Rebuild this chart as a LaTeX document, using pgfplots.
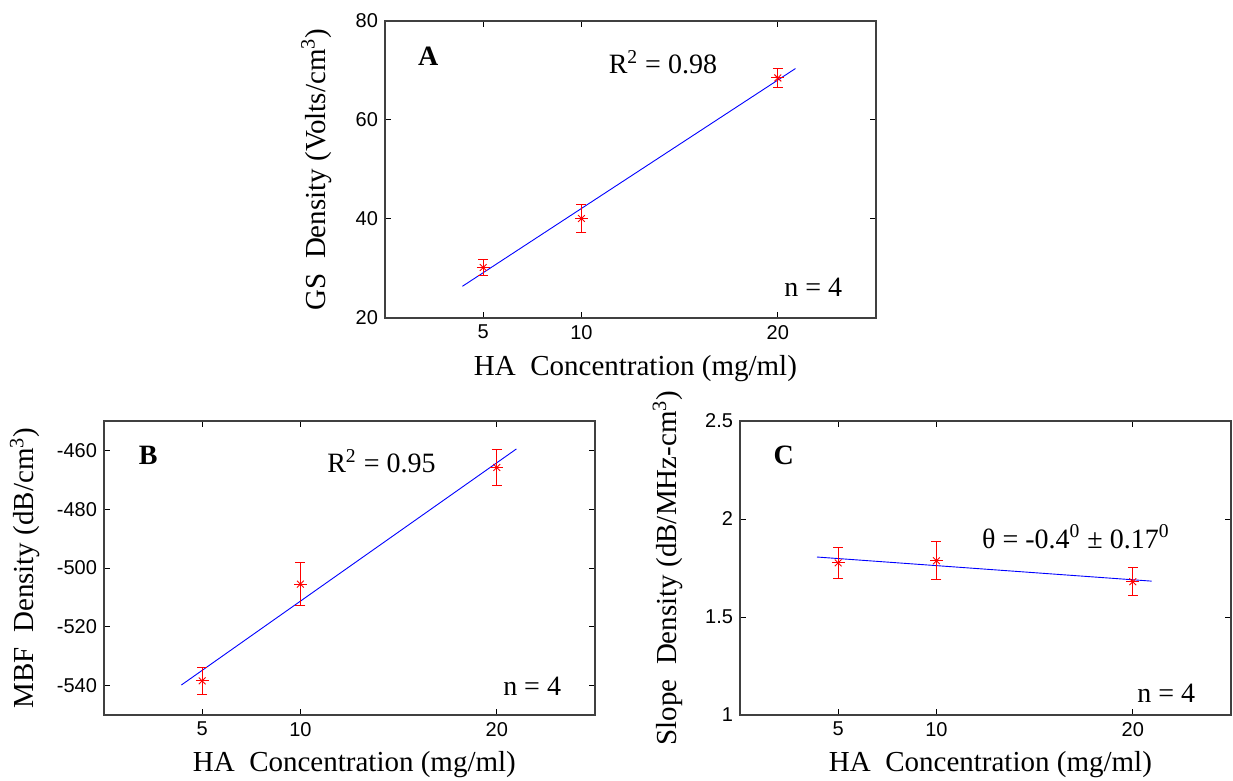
\documentclass[border=0pt]{standalone}
\usepackage{fontspec}
\setmainfont{Liberation Serif}
\newfontfamily\arial{Liberation Sans}
\usepackage{pgfplots}
\pgfplotsset{compat=1.18}
\pgfplotsset{
  panel/.style={
    scale only axis, width=245.5pt,
    xmin=0, xmax=25, xtick={5,10,20},
    axis line style={draw=black!75, line width=0.8pt},
    tick style={black, line width=0.5pt}, major tick length=3pt,
    /pgf/number format/assume math mode=true,
    tick label style={font=\arial\fontsize{10}{12}\selectfont},
    label style={font=\fontsize{14.5}{17}\selectfont},
    xlabel={HA\ \ Concentration (mg/ml)},
    xlabel style={at={(axis description cs:0.51,-0.17)}, anchor=center},
    clip=false,
  },
  fitline/.style={blue, line width=0.45pt, no marks},
  pts/.style={red, only marks, mark=+, mark size=3.2pt, line width=0.45pt,
    error bars/.cd, y dir=both, y explicit,
    error bar style={red, line width=0.5pt},
    error mark options={rotate=90, mark size=2.5pt, red, line width=0.5pt}},
  pts2/.style={red, only marks, mark=x, mark size=2.4pt, line width=0.45pt},
}
\tikzset{
  ann/.style={font=\fontsize{14}{17}\selectfont},
  lett/.style={font=\bfseries\fontsize{14}{17}\selectfont},
}
\begin{document}
\begin{tikzpicture}
% Panel A
\begin{axis}[panel, at={(192.5pt,-10.5pt)}, anchor=north west, height=148.5pt,
  ymin=20, ymax=80, ytick={20,40,60,80},
  ylabel={GS\ \ Density (Volts/cm\textsuperscript{3})},
  ylabel style={at={(axis description cs:-0.14,0.5)}, anchor=center}]
\addplot[fitline] coordinates {(3.94,26.4) (20.9,70.4)};
\addplot[pts] coordinates {(5,30.2) +- (0,1.6) (10,40.1) +- (0,2.8) (20,68.5) +- (0,1.9)};
\addplot[pts2] coordinates {(5,30.2) (10,40.1) (20,68.5)};
\node[lett] at (rel axis cs:0.088,0.882) {A};
\node[ann] at (rel axis cs:0.566,0.862) {R\textsuperscript{2} = 0.98};
\node[ann] at (rel axis cs:0.872,0.104) {n = 4};
\end{axis}
% Panel B
\begin{axis}[panel, at={(52pt,-210.5pt)}, anchor=north west, height=147pt,
  ymin=-550, ymax=-450, ytick={-540,-520,-500,-480,-460},
  ylabel={MBF\ \ Density (dB/cm\textsuperscript{3})},
  ylabel style={at={(axis description cs:-0.161,0.5)}, anchor=center}]
\addplot[fitline] coordinates {(3.94,-539.8) (21.0,-459.5)};
\addplot[pts] coordinates {(5,-538.4) +- (0,4.5) (10,-505.5) +- (0,7.3) (20,-465.8) +- (0,6)};
\addplot[pts2] coordinates {(5,-538.4) (10,-505.5) (20,-465.8)};
\node[lett] at (rel axis cs:0.090,0.882) {B};
\node[ann] at (rel axis cs:0.565,0.863) {R\textsuperscript{2} = 0.95};
\node[ann] at (rel axis cs:0.872,0.099) {n = 4};
\end{axis}
% Panel C
\begin{axis}[panel, at={(370pt,-210.5pt)}, anchor=north west, height=147pt,
  ymin=1, ymax=2.5, ytick={1,1.5,2,2.5},
  ylabel={Slope\ \ Density (dB/MHz-cm\textsuperscript{3})},
  ylabel style={at={(axis description cs:-0.147,0.5)}, anchor=center}]
\addplot[fitline] coordinates {(3.92,1.806) (20.96,1.683)};
\addplot[pts] coordinates {(5,1.776) +- (0,0.078) (10,1.787) +- (0,0.096) (20,1.680) +- (0,0.072)};
\addplot[pts2] coordinates {(5,1.776) (10,1.787) (20,1.680)};
\node[lett] at (rel axis cs:0.089,0.882) {C};
\node[ann] at (rel axis cs:0.684,0.606) {θ = -0.4\textsuperscript{0} ± 0.17\textsuperscript{0}};
\node[ann] at (rel axis cs:0.868,0.074) {n = 4};
\end{axis}
\pgfresetboundingbox
\path (0,0) rectangle (616.5pt,-390.5pt);
\end{tikzpicture}
\end{document}
